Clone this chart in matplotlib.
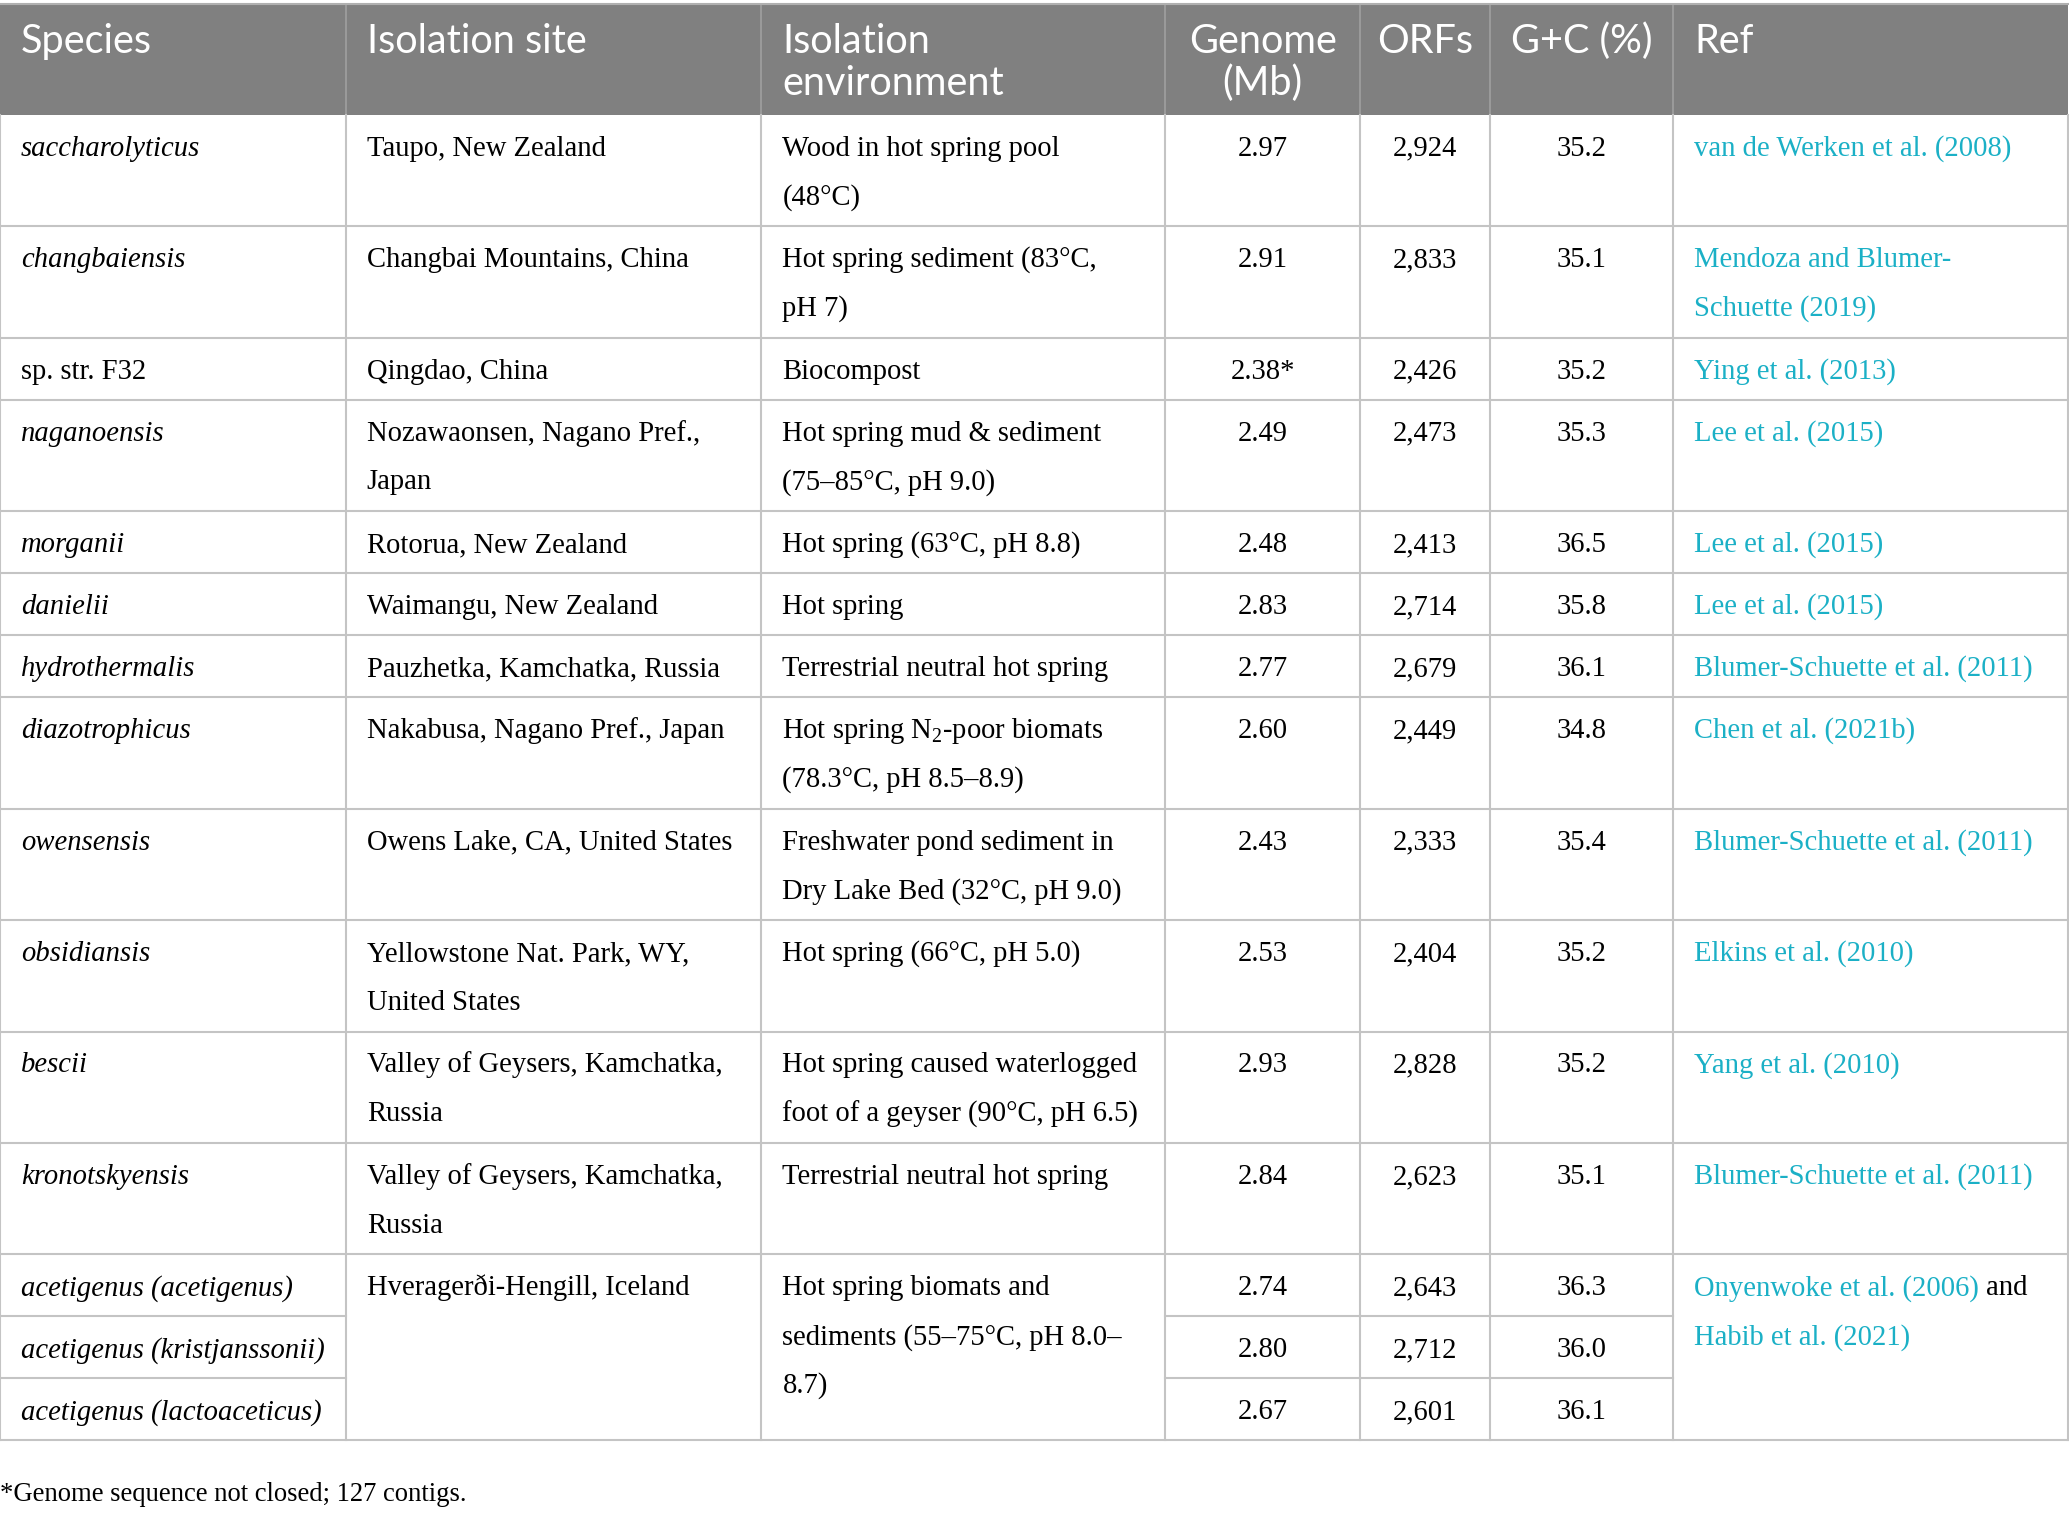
import numpy as np
import matplotlib.pyplot as plt

plt.rcParams['mathtext.fontset'] = 'custom'
plt.rcParams['mathtext.rm'] = 'Liberation Serif'
plt.rcParams['mathtext.it'] = 'Liberation Serif:italic'

# ---- table content ----
headers = ["Species", "Isolation site", "Isolation\nenvironment", "Genome\n(Mb)", "ORFs", "G+C (%)", "Ref"]

species = ["saccharolyticus", "changbaiensis", "sp. str. F32", "naganoensis", "morganii",
           "danielii", "hydrothermalis", "diazotrophicus", "owensensis", "obsidiansis",
           "bescii", "kronotskyensis", "acetigenus (acetigenus)",
           "acetigenus (kristjanssonii)", "acetigenus (lactoaceticus)"]
italic_species = [True, True, False, True, True, True, True, True, True, True,
                  True, True, True, True, True]

sites = ["Taupo, New Zealand", "Changbai Mountains, China", "Qingdao, China",
         "Nozawaonsen, Nagano Pref.,\nJapan", "Rotorua, New Zealand", "Waimangu, New Zealand",
         "Pauzhetka, Kamchatka, Russia", "Nakabusa, Nagano Pref., Japan",
         "Owens Lake, CA, United States", "Yellowstone Nat. Park, WY,\nUnited States",
         "Valley of Geysers, Kamchatka,\nRussia", "Valley of Geysers, Kamchatka,\nRussia",
         "Hveragerði-Hengill, Iceland", None, None]

environments = ["Wood in hot spring pool\n(48°C)", "Hot spring sediment (83°C,\npH 7)", "Biocompost",
                "Hot spring mud & sediment\n(75–85°C, pH 9.0)", "Hot spring (63°C, pH 8.8)",
                "Hot spring", "Terrestrial neutral hot spring",
                "Hot spring N$_2$-poor biomats\n(78.3°C, pH 8.5–8.9)",
                "Freshwater pond sediment in\nDry Lake Bed (32°C, pH 9.0)",
                "Hot spring (66°C, pH 5.0)",
                "Hot spring caused waterlogged\nfoot of a geyser (90°C, pH 6.5)",
                "Terrestrial neutral hot spring",
                "Hot spring biomats and\nsediments (55–75°C, pH 8.0–\n8.7)", None, None]

genome = ["2.97", "2.91", "2.38*", "2.49", "2.48", "2.83", "2.77", "2.60", "2.43", "2.53",
          "2.93", "2.84", "2.74", "2.80", "2.67"]
orfs = ["2,924", "2,833", "2,426", "2,473", "2,413", "2,714", "2,679", "2,449", "2,333", "2,404",
        "2,828", "2,623", "2,643", "2,712", "2,601"]
gc = ["35.2", "35.1", "35.2", "35.3", "36.5", "35.8", "36.1", "34.8", "35.4", "35.2",
      "35.2", "35.1", "36.3", "36.0", "36.1"]

refs = ["van de Werken et al. (2008)", "Mendoza and Blumer-\nSchuette (2019)", "Ying et al. (2013)",
        "Lee et al. (2015)", "Lee et al. (2015)", "Lee et al. (2015)",
        "Blumer-Schuette et al. (2011)", "Chen et al. (2021b)", "Blumer-Schuette et al. (2011)",
        "Elkins et al. (2010)", "Yang et al. (2010)", "Blumer-Schuette et al. (2011)",
        "Onyenwoke et al. (2006)|and\nHabib et al. (2021)", None, None]

footnote = "*Genome sequence not closed; 127 contigs."

# ---- layout (in 1568 x 1150 units) ----
col_edges = [0, 262, 577, 883, 1031, 1129, 1268, 1567]
header_top, header_bot = 3, 87
h1, h2 = 47, 84.5
row_lines = [2, 2, 1, 2, 1, 1, 1, 2, 2, 2, 2, 2, 1, 1, 1]

GRAY = '#808080'
LINE = '#c4c4c4'
LINK = '#1bb0c6'
serif = 'Liberation Serif'
sans = 'Lato'
fs = 20.6
hfs = 28.5
lsp = 37

fig = plt.figure(figsize=(20.69, 15.17), dpi=100)
ax = fig.add_axes([0, 0, 1, 1])
ax.set_xlim(0, 1568)
ax.set_ylim(1150, 0)
ax.axis('off')

# header
ax.fill_between([col_edges[0], col_edges[-1]], header_top, header_bot, color=GRAY, lw=0)
for x in col_edges[1:-1]:
    ax.plot([x, x], [header_top, header_bot], color='#a0a0a0', lw=1.2)
ax.plot([0, 1567], [header_top, header_top], color='#b0b0b0', lw=1.5)

centered = [False, False, False, True, True, True, False]
left_pad = 16
for j, h in enumerate(headers):
    for k, line in enumerate(h.split('\n')):
        if centered[j]:
            x, ha = (col_edges[j] + col_edges[j + 1]) / 2, 'center'
        else:
            x, ha = col_edges[j] + left_pad, 'left'
        ax.text(x, 40 + k * 32, line, ha=ha, va='baseline', color='white',
                fontsize=hfs, family=sans)

# row positions
tops = [header_bot]
for n in row_lines:
    tops.append(tops[-1] + (h2 if n == 2 else h1))
bottom = tops[-1]

renderer = fig.canvas.get_renderer()


def put(x, y, s, ha='left', color='black', style='normal'):
    for k, line in enumerate(s.split('\n')):
        ax.text(x, y + k * lsp, line, ha=ha, va='baseline', color=color,
                fontsize=fs, family=serif, style=style)


for i in range(len(species)):
    y = tops[i] + 31
    put(col_edges[0] + left_pad, y, species[i], style='italic' if italic_species[i] else 'normal')
    if sites[i] is not None:
        put(col_edges[1] + left_pad, y, sites[i])
    if environments[i] is not None:
        put(col_edges[2] + left_pad, y, environments[i])
    put((col_edges[3] + col_edges[4]) / 2, y, genome[i], ha='center')
    put((col_edges[4] + col_edges[5]) / 2, y, orfs[i], ha='center')
    put((col_edges[5] + col_edges[6]) / 2, y, gc[i], ha='center')
    if refs[i] is not None:
        for k, line in enumerate(refs[i].split('\n')):
            yy = y + k * lsp
            if '|' in line:
                a, b = line.split('|')
                t = ax.text(col_edges[6] + left_pad, yy, a, ha='left', va='baseline',
                            color=LINK, fontsize=fs, family=serif)
                bb = t.get_window_extent(renderer).transformed(ax.transData.inverted())
                ax.text(bb.x1 + 5, yy, b, ha='left', va='baseline', color='black',
                        fontsize=fs, family=serif)
            else:
                ax.text(col_edges[6] + left_pad, yy, line, ha='left', va='baseline',
                        color=LINK, fontsize=fs, family=serif)

# grid lines
merged_start = 12
for i, yline in enumerate(tops[1:], start=1):
    if merged_start < i < len(tops) - 1:
        for j in [0, 3, 4, 5]:
            ax.plot([col_edges[j], col_edges[j + 1]], [yline, yline], color=LINE, lw=1.5)
    else:
        ax.plot([0, 1567], [yline, yline], color=LINE, lw=1.5)
for x in col_edges:
    ax.plot([x, x], [header_bot, bottom], color=LINE, lw=1.5)

ax.text(0, 1138, footnote, ha='left', va='baseline', fontsize=19.2, family=serif)

fig.savefig('out.png', dpi=100)
